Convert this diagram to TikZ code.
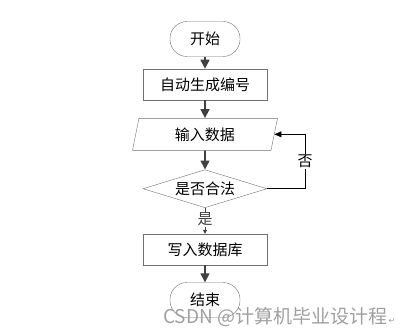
\documentclass[tikz,border=0pt]{standalone}
\usepackage{fontspec}
\setmainfont{Liberation Sans}
\newfontfamily\cjk{Noto Sans CJK SC}
\newfontfamily\symfont{DejaVu Sans}
\usetikzlibrary{arrows.meta,positioning,shapes.geometric}
\definecolor{FlowLine}{HTML}{404040}
\definecolor{FlowEdge}{HTML}{707070}
\definecolor{MarkGray}{HTML}{A0A0A0}

\begin{document}
\begin{tikzpicture}[
        font=\cjk\fontsize{15}{17}\selectfont,
        term/.style={draw=FlowEdge,rounded corners=17pt,minimum width=70pt,minimum height=35pt,inner sep=0pt},
        proc/.style={draw=FlowEdge,minimum width=124pt,minimum height=31pt,inner sep=0pt},
        io/.style={draw=FlowEdge,trapezium,trapezium left angle=65,trapezium right angle=115,
          minimum width=145pt,minimum height=32pt,inner sep=0pt,trapezium stretches body},
        decide/.style={draw=FlowEdge,diamond,aspect=3,minimum width=124pt,minimum height=38pt,inner sep=0pt},
        arrow/.style={-{Triangle[width=9pt,length=9pt]},line width=1.6pt,FlowLine},
        thinarrow/.style={-{Triangle[width=6pt,length=7pt]},line width=.6pt,black}
      ]
        \useasboundingbox (0,0) rectangle (409pt,-334pt);
        \node[term] (start) at (205pt,-39pt) {开始};
        \node[proc,below=12pt of start] (number) {自动生成编号};
        \node[io,below=18pt of number] (input) {输入数据};
        \node[decide,below=19pt of input] (check) {是否合法};
        \node[proc,below=26pt of check] (write) {写入数据库};
        \node[term,below=17pt of write] (finish) {结束};
        \draw[arrow] (start)--(number);
        \draw[arrow] (number)--(input);
        \draw[arrow] (input)--(check);
        \draw[-{Triangle[width=4pt,length=4pt]},line width=.5pt,FlowLine] (check.south)--node[fill=white,inner sep=1pt,pos=.45]{是}(write.north);
        \draw[arrow] (write)--(finish);
        \draw[thinarrow] (check.east)--++(38pt,0) coordinate (turn) |- node[pos=.25,fill=white,inner sep=1.5pt]{否} (input.east);
        % watermark
        \node[MarkGray,font=\cjk\fontsize{19}{21}\selectfont,anchor=west,inner sep=0pt] (mark) at (163pt,-317pt) {CSDN @计算机毕业设计程};
        \node[MarkGray,font=\symfont\fontsize{8}{9}\selectfont,anchor=west,inner sep=1pt] (ret) at ([yshift=-4pt]mark.east) {↵};
      \end{tikzpicture}
\end{document}
